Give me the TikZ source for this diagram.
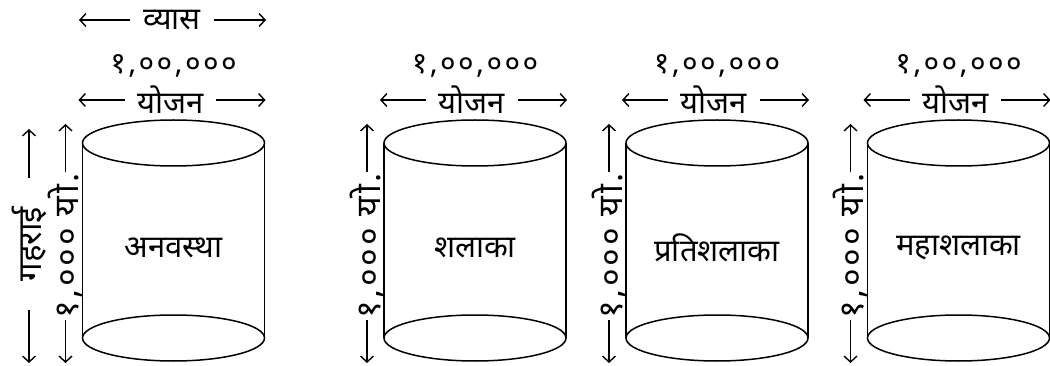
\documentclass[tikz,border=0pt]{standalone}
\usepackage{fontspec}
\newfontfamily\dev[Script=Devanagari]{Noto Sans}
\newfontfamily\devnum[Script=Devanagari,LetterSpace=8]{Noto Sans}
\usetikzlibrary{arrows.meta}
\begin{document}
\begin{tikzpicture}[x=1pt,y=-1pt,
  line width=1.5pt,
  arr/.style={-{Straight Barb[length=6pt,width=13pt,line width=1.4pt]}, line width=1.4pt},
  lbl/.style={font=\dev\fontsize{31}{34}\selectfont, inner sep=0pt},
  num/.style={font=\devnum\fontsize{30}{34}\selectfont, inner sep=0pt},
  vlbl/.style={font=\devnum\fontsize{34}{38}\selectfont, inner sep=1pt, rotate=90}]
\useasboundingbox (0,0) rectangle (1050,366);

% cylinders
\foreach \n/\cx/\name in {1/173.5/अनवस्था, 2/475/शलाका, 3/717/प्रतिशलाका, 4/958.5/महाशलाका}{
  \draw (\cx,143) ellipse [x radius=91pt, y radius=23pt];
  \draw (\cx,338) ellipse [x radius=91pt, y radius=23pt];
  \draw (\cx-91,143) -- (\cx-91,338);
  \draw (\cx+91,143) -- (\cx+91,338);
  \node[lbl] (name\n) at (\cx,248) {\name};
  % width labels
  \node[num] (w\n) at (\cx,66) {१,००,०००};
  \node[lbl, inner xsep=12pt] (y\n) at (\cx-3,100) {योजन};
  \coordinate (wl\n) at (\cx-95,100);
  \coordinate (wr\n) at (\cx+92,100);
  \draw[arr] (y\n.west) -- (wl\n);
  \draw[arr] (y\n.east) -- (wr\n);
  % height labels
  \node[vlbl] (h\n) at (\cx-108,246) {१,००० यो.};
  \coordinate (ht\n) at (\cx-108,124);
  \coordinate (hb\n) at (\cx-108,363);
  \draw[arr] (h\n.east) -- (ht\n);
  \draw[arr] (h\n.west) -- (hb\n);
}

% diameter label
\node[lbl, inner xsep=12pt] (vyas) at (172,20) {व्यास};
\coordinate (vl) at (79,20);
\coordinate (vr) at (266,20);
\draw[arr] (vyas.west) -- (vl);
\draw[arr] (vyas.east) -- (vr);

% depth label
\node[vlbl, font=\dev\fontsize{33}{36}\selectfont, inner sep=28pt] (depth) at (29,244) {गहराई};
\coordinate (dt) at (29,129);
\coordinate (db) at (29,363);
\draw[arr] (depth.east) -- (dt);
\draw[arr] (depth.west) -- (db);
\end{tikzpicture}
\end{document}
